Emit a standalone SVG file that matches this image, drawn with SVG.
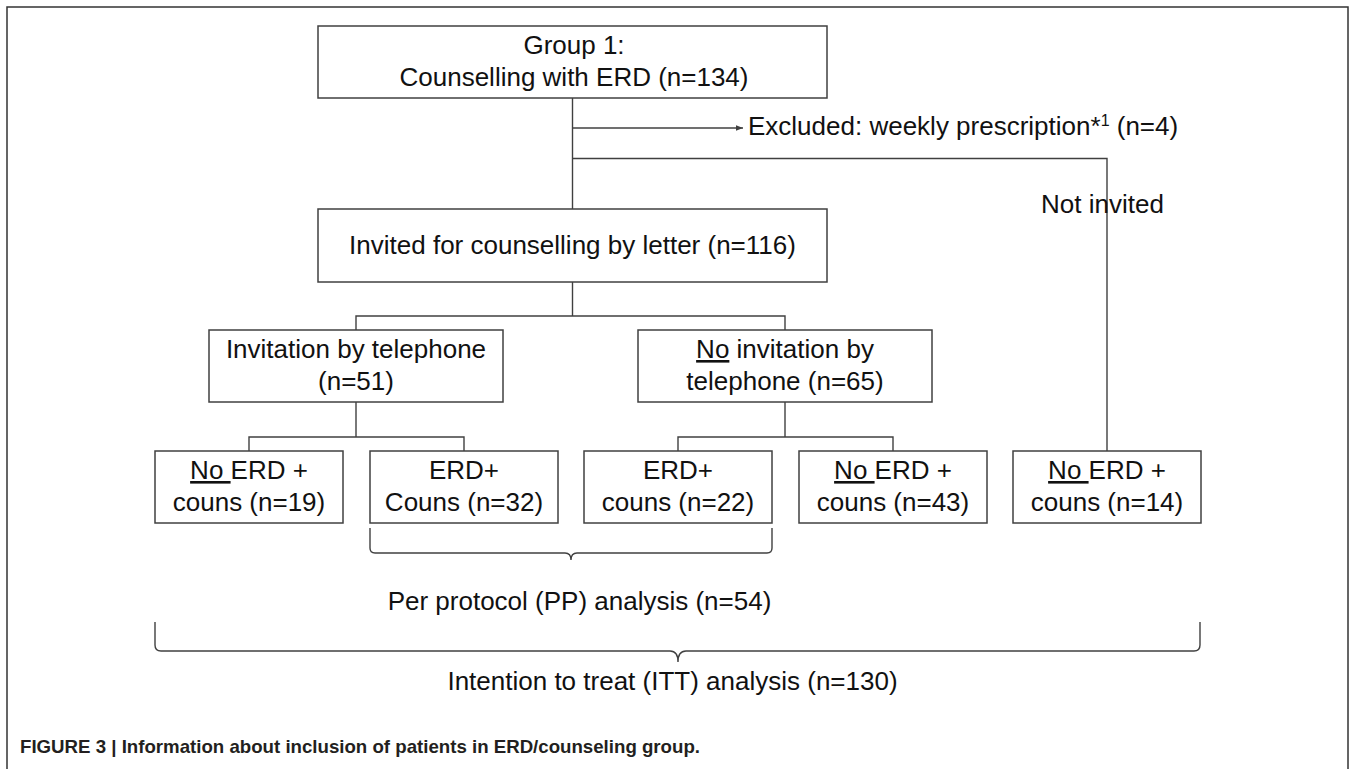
<svg xmlns="http://www.w3.org/2000/svg" width="1355" height="769" viewBox="0 0 1355 769">
<style>
.box{fill:#fff;stroke:#404040;stroke-width:1.5}
.ln{fill:none;stroke:#404040;stroke-width:1.4}
.t{font-family:"Liberation Sans",Arial,sans-serif;font-size:26px;fill:#111;text-anchor:middle}
.tl{font-family:"Liberation Sans",Arial,sans-serif;font-size:26px;fill:#111}
.u{text-decoration:underline}
.cap{font-family:"Liberation Sans",Arial,sans-serif;font-size:19px;font-weight:bold;fill:#231f20}
</style>
<defs>
<marker id="arr" viewBox="0 0 10 10" refX="10" refY="5" markerWidth="7" markerHeight="7" markerUnits="userSpaceOnUse" orient="auto">
<path d="M0,1 L10,5 L0,9 Z" fill="#404040"/>
</marker>
</defs>
<rect x="7" y="7" width="1341" height="800" fill="none" stroke="#333" stroke-width="1.5"/>

<g id="connectors">
<path class="ln" d="M572.5,98 V209"/>
<path class="ln" d="M572.5,128 H743" marker-end="url(#arr)"/>
<path class="ln" d="M572.5,158.5 H1107 V451"/>
<path class="ln" d="M572.5,282 V316"/>
<path class="ln" d="M356,330 V316 H785 V330"/>
<path class="ln" d="M356,402 V437"/>
<path class="ln" d="M249,451 V437 H464 V451"/>
<path class="ln" d="M785,402 V437"/>
<path class="ln" d="M678,451 V437 H893 V451"/>
<text class="tl" x="1041" y="213">Not invited</text>
</g>

<g id="group1">
<rect class="box" x="318" y="26" width="509" height="72"/>
<text class="t" x="574" y="54">Group 1:</text>
<text class="t" x="574" y="86">Counselling with ERD (n=134)</text>
</g>

<g id="excluded">
<text class="tl" x="748" y="135">Excluded: weekly prescription*<tspan font-size="16" dy="-9">1</tspan><tspan dy="9"> (n=4)</tspan></text>
</g>

<g id="invited">
<rect class="box" x="318" y="209" width="509" height="73"/>
<text class="t" x="572.5" y="254">Invited for counselling by letter (n=116)</text>
</g>

<g id="tel">
<rect class="box" x="209" y="330" width="294" height="72"/>
<text class="t" x="356" y="358">Invitation by telephone</text>
<text class="t" x="356" y="390">(n=51)</text>
</g>

<g id="notel">
<rect class="box" x="638" y="330" width="294" height="72"/>
<text class="t" x="785" y="358"><tspan class="u">No</tspan> invitation by</text>
<text class="t" x="785" y="390">telephone (n=65)</text>
</g>

<g id="tel-noerd">
<rect class="box" x="155" y="451" width="188" height="72"/>
<text class="t" x="249" y="479"><tspan class="u">No </tspan>ERD +</text>
<text class="t" x="249" y="511">couns (n=19)</text>
</g>

<g id="tel-erd">
<rect class="box" x="370" y="451" width="188" height="72"/>
<text class="t" x="464" y="479">ERD+</text>
<text class="t" x="464" y="511">Couns (n=32)</text>
</g>

<g id="notel-erd">
<rect class="box" x="584" y="451" width="188" height="72"/>
<text class="t" x="678" y="479">ERD+</text>
<text class="t" x="678" y="511">couns (n=22)</text>
</g>

<g id="notel-noerd">
<rect class="box" x="799" y="451" width="188" height="72"/>
<text class="t" x="893" y="479"><tspan class="u">No </tspan>ERD +</text>
<text class="t" x="893" y="511">couns (n=43)</text>
</g>

<g id="notinvited-noerd">
<rect class="box" x="1013" y="451" width="188" height="72"/>
<text class="t" x="1107" y="479"><tspan class="u">No </tspan>ERD +</text>
<text class="t" x="1107" y="511">couns (n=14)</text>
</g>

<g id="pp">
<path class="ln" d="M370,528 V548 Q370,553 375,553 H565 Q571,553 571,560 Q571,553 577,553 H767 Q772,553 772,548 V528"/>
<text class="t" x="579.5" y="610">Per protocol (PP) analysis (n=54)</text>
</g>

<g id="itt">
<path class="ln" d="M155,622 V645 Q155,651 161,651 H670 Q678,651 678,662 Q678,651 686,651 H1194 Q1200,651 1200,645 V622"/>
<text class="t" x="672.5" y="690">Intention to treat (ITT) analysis (n=130)</text>
</g>

<text class="cap" x="20" y="753" textLength="680" lengthAdjust="spacingAndGlyphs">FIGURE 3 | Information about inclusion of patients in ERD/counseling group.</text>
</svg>
